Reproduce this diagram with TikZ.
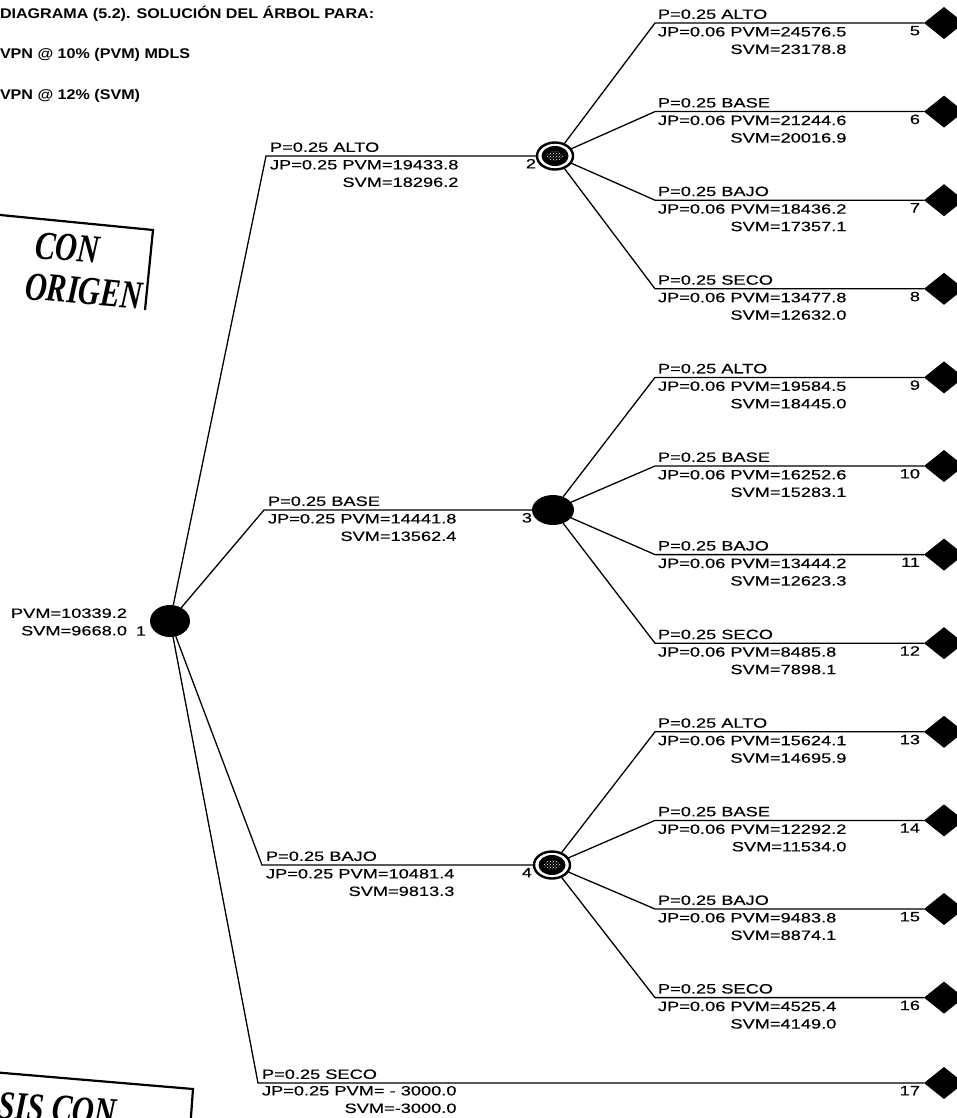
\documentclass[tikz,border=0pt]{standalone}
\usepackage{fontspec}
\setmainfont{Liberation Sans}
\newfontfamily\treefont[FakeStretch=1.35,FakeBold=0.4]{Liberation Sans}
\newfontfamily\headfont[FakeStretch=1.15]{Liberation Sans}
\newfontfamily\stampfont[FakeStretch=0.76]{Liberation Serif}
\usetikzlibrary{shapes.geometric,patterns}
\begin{document}
\begin{tikzpicture}[x=1pt,y=-1pt,
  every node/.style={inner sep=0pt, outer sep=0pt},
  lbl/.style={font=\treefont\fontsize{13.5}{17.5}\selectfont, inner sep=1pt},
  plabel/.style={lbl, anchor=south west, yshift=3pt},
  vlabel/.style={lbl, anchor=north west, align=right, yshift=-3pt},
  numlabel/.style={lbl, anchor=north east, yshift=-2pt},
  head/.style={font=\headfont\bfseries\fontsize{14}{16}\selectfont, anchor=west},
  solidnode/.style={ellipse, fill=black, minimum width=#1, minimum height=30pt},
  ringnode/.style={ellipse, draw=black, line width=2.4pt, fill=white,
    minimum width=36pt, minimum height=27pt,
    path picture={
      \fill[black] (path picture bounding box.center) ellipse [x radius=13.5, y radius=10];
      \fill[pattern=crosshatch dots, pattern color=white]
        (path picture bounding box.center) ellipse [x radius=8, y radius=5];
    }},
  leaf/.style={diamond, fill=black, minimum width=40pt, minimum height=32pt},
  branch/.style={line width=1.3pt},
  stamp/.style={font=\stampfont\bfseries\itshape\fontsize{40}{40}\selectfont, anchor=base west},
  stampedge/.style={line width=2.2pt},
]
\useasboundingbox (0,0) rectangle (957,1118);

% title block
\node[head] (t1) at (0,14) {DIAGRAMA (5.2). SOLUCIÓN DEL ÁRBOL PARA:};
\node[head] (t2) at (0,55) {VPN @ 10\% (PVM) MDLS};
\node[head] (t3) at (0,96) {VPN @ 12\% (SVM)};

% rubber stamps, partly outside the sheet
\begin{scope}
  \clip (0,0) rectangle (957,1118);
  \draw[stampedge] (-20,213) -- (153,230) -- (145,310);
  \node[stamp, rotate=-5] (s1) at (34,258) {CON};
  \node[stamp, rotate=-5] (s2) at (24,299) {ORIGEN};
  \draw[stampedge] (-20,1071) -- (193,1089) -- (190,1130);
  \node[stamp, rotate=-4] (s3) at (-2,1118) {SIS CON};
\end{scope}

% decision nodes
\node[solidnode=40pt, minimum height=32pt] (n1) at (170,621) {};
\node[ringnode] (n2) at (555,156) {};
\node[solidnode=42pt] (n3) at (553,510) {};
\node[ringnode] (n4) at (552,865) {};

% root values
\node[lbl, anchor=east, align=right] (v1) at (128,622) {PVM=10339.2\\SVM=9668.0};
\node[lbl] (k1) at (141,631) {1};

% first-level branches
\foreach \id/\py/\ax/\nm/\pv/\sv/\kx in {
  2/156/266/ALTO/19433.8/18296.2/537,
  3/510/264/BASE/14441.8/13562.4/533,
  4/865/262/BAJO/10481.4/9813.3/533}{
  \coordinate (a\id) at (\ax,\py);
  \draw[branch] (n1) -- (a\id) -- (n\id);
  \node[plabel] (p\id) at (\ax+3,\py) {P=0.25 \nm};
  \node[vlabel] (q\id) at (\ax+3,\py) {JP=0.25 PVM=\pv\\SVM=\sv};
  \node[numlabel] (k\id) at (\kx,\py) {\id};
}

% last first-level branch ends directly in a terminal
\coordinate (a17) at (258,1083);
\node[leaf] (t17) at (944,1083) {};
\draw[branch] (n1) -- (a17) -- (t17);
\node[plabel] (p17) at (261,1083) {P=0.25 SECO};
\node[vlabel, yshift=1pt] (q17) at (261,1083) {JP=0.25 PVM= - 3000.0\\SVM=-3000.0};
\node[numlabel] (k17) at (921,1083) {17};

% second-level branches and terminals
\foreach \id/\py/\src/\nm/\pv/\sv in {
  5/23/n2/ALTO/24576.5/23178.8,
  6/111.6/n2/BASE/21244.6/20016.9,
  7/200.2/n2/BAJO/18436.2/17357.1,
  8/288.8/n2/SECO/13477.8/12632.0,
  9/377.4/n3/ALTO/19584.5/18445.0,
  10/466/n3/BASE/16252.6/15283.1,
  11/554.6/n3/BAJO/13444.2/12623.3,
  12/643.2/n3/SECO/8485.8/7898.1,
  13/731.8/n4/ALTO/15624.1/14695.9,
  14/820.4/n4/BASE/12292.2/11534.0,
  15/909/n4/BAJO/9483.8/8874.1,
  16/997.6/n4/SECO/4525.4/4149.0}{
  \coordinate (b\id) at (655,\py);
  \node[leaf] (t\id) at (944,\py) {};
  \draw[branch] (\src) -- (b\id) -- (t\id);
  \node[plabel] (p\id) at (657,\py) {P=0.25 \nm};
  \node[vlabel] (q\id) at (657,\py) {JP=0.06 PVM=\pv\\SVM=\sv};
  \node[numlabel] (k\id) at (921,\py) {\id};
}
\end{tikzpicture}
\end{document}
